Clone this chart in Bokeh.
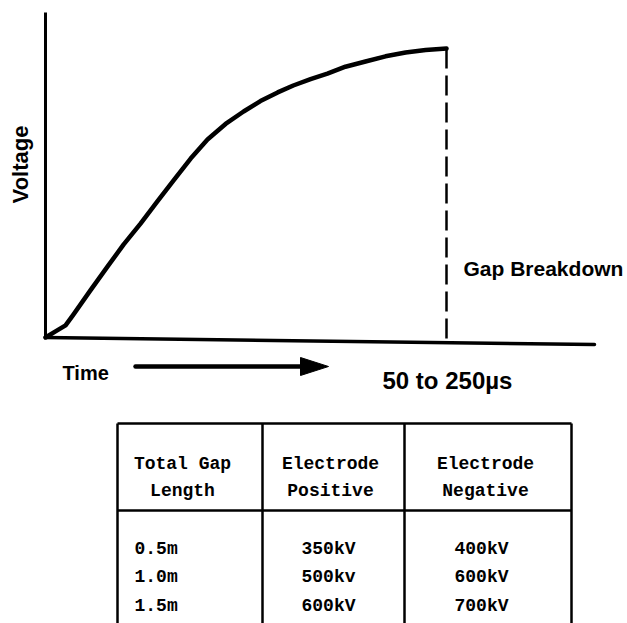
from math import pi
from bokeh.plotting import figure
from bokeh.models import Range1d
from bokeh.core.properties import value
from bokeh.embed import file_html
from bokeh.resources import INLINE

# ---- data (relative time to breakdown, relative voltage to breakdown) ----
time_rel = [0.000, 0.025, 0.050, 0.070, 0.112, 0.155, 0.195, 0.237, 0.279, 0.319,
            0.362, 0.404, 0.449, 0.494, 0.536, 0.579, 0.618, 0.661, 0.703, 0.748,
            0.798, 0.848, 0.898, 0.948, 1.000]
voltage_rel = [0.000, 0.021, 0.042, 0.080, 0.163, 0.246, 0.322, 0.394, 0.471, 0.543,
               0.619, 0.685, 0.739, 0.782, 0.818, 0.848, 0.872, 0.894, 0.913, 0.937,
               0.955, 0.973, 0.986, 0.995, 1.000]

y_label = "Voltage"
x_label = "Time"
breakdown_label = "Gap Breakdown"
time_range_label = "50 to 250\u00b5s"

header_gap = ["Total Gap", "Length"]
header_pos = ["Electrode", "Positive"]
header_neg = ["Electrode", "Negative"]
gap_length = ["0.5m", "1.0m", "1.5m"]
positive_kv = ["350kV", "500kv", "600kV"]
negative_kv = ["400kV", "600kV", "700kV"]

# ---- layout helpers (page pixel -> data units) ----
W, H = 627, 623
X0, Y0 = 45, 337          # page position of origin
SX, SY = 401.0, 289.0     # pixels per unit


def tx(px):
    return (px - X0) / SX


def ty(py):
    return (Y0 - py) / SY


p = figure(width=W, height=H, output_backend="svg", toolbar_location=None,
           x_range=Range1d(tx(0), tx(W)), y_range=Range1d(ty(H), ty(0)),
           x_axis_location=None, y_axis_location=None, min_border=0)
p.grid.visible = False
p.outline_line_color = None
p.background_fill_color = "white"
p.border_fill_color = "white"

ink = "black"

# axes lines
p.line([tx(45), tx(45)], [ty(337), ty(12)], line_width=3, color=ink)
p.line([tx(45), tx(594)], [ty(337), ty(344)], line_width=3.5, color=ink, line_cap="round")

# voltage curve
p.line(time_rel, voltage_rel, line_width=4.5, color=ink, line_cap="round", line_join="round")

# breakdown dashed line
p.line([time_rel[-1], time_rel[-1]], [voltage_rel[-1], ty(341)], line_width=2.5,
       color=ink, line_dash="20 7")

# time arrow
p.line([tx(135), tx(306)], [ty(366), ty(366)], line_width=4.5, color=ink, line_cap="round")
p.patch([tx(300), tx(328), tx(300)], [ty(357), ty(366), ty(375)], color=ink)

sans = value("Liberation Sans")
p.text(x=[tx(20)], y=[ty(164)], text=[y_label], angle=pi / 2, text_font=sans,
       text_font_style="bold", text_font_size=value("22px"), text_align="center",
       text_baseline="middle", text_color=ink)
p.text(x=[tx(62)], y=[ty(372)], text=[x_label], text_font=sans, text_font_style="bold",
       text_font_size=value("20px"), text_align="left", text_baseline="alphabetic",
       text_color=ink)
p.text(x=[tx(463)], y=[ty(268)], text=[breakdown_label], text_font=sans,
       text_font_style="bold", text_font_size=value("21px"), text_align="left",
       text_baseline="alphabetic", text_color=ink)
p.text(x=[tx(382)], y=[ty(380)], text=[time_range_label], text_font=sans,
       text_font_style="bold", text_font_size=value("24px"), text_align="left",
       text_baseline="alphabetic", text_color=ink)

# ---- table ----
tl, c1, c2, tr = 117, 262, 404, 571
ttop, tsep, tbot = 423, 510, 640
p.segment(x0=[tx(tl), tx(tl)], y0=[ty(ttop), ty(tsep)],
          x1=[tx(tr), tx(tr)], y1=[ty(ttop), ty(tsep)], line_width=2.5, color=ink)
p.segment(x0=[tx(v) for v in (tl, c1, c2, tr)], y0=[ty(ttop)] * 4,
          x1=[tx(v) for v in (tl, c1, c2, tr)], y1=[ty(tbot)] * 4,
          line_width=2.5, color=ink)

mono = value("Liberation Mono")
hdr_base = [463, 490]
for col_text, cx in ((header_gap, 182), (header_pos, 330), (header_neg, 485)):
    p.text(x=[tx(cx)] * len(col_text), y=[ty(b) for b in hdr_base], text=col_text,
           text_font=mono, text_font_style="bold", text_font_size=value("18px"),
           text_align="center", text_baseline="alphabetic", text_color=ink)

row_base = [548 + i * 28.5 for i in range(len(gap_length))]
p.text(x=[tx(134)] * len(gap_length), y=[ty(b) for b in row_base], text=gap_length,
       text_font=mono, text_font_style="bold", text_font_size=value("18px"),
       text_align="left", text_baseline="alphabetic", text_color=ink)
p.text(x=[tx(328)] * len(positive_kv), y=[ty(b) for b in row_base], text=positive_kv,
       text_font=mono, text_font_style="bold", text_font_size=value("18px"),
       text_align="center", text_baseline="alphabetic", text_color=ink)
p.text(x=[tx(481)] * len(negative_kv), y=[ty(b) for b in row_base], text=negative_kv,
       text_font=mono, text_font_style="bold", text_font_size=value("18px"),
       text_align="center", text_baseline="alphabetic", text_color=ink)

open("out.html", "w").write(file_html(p, INLINE))
